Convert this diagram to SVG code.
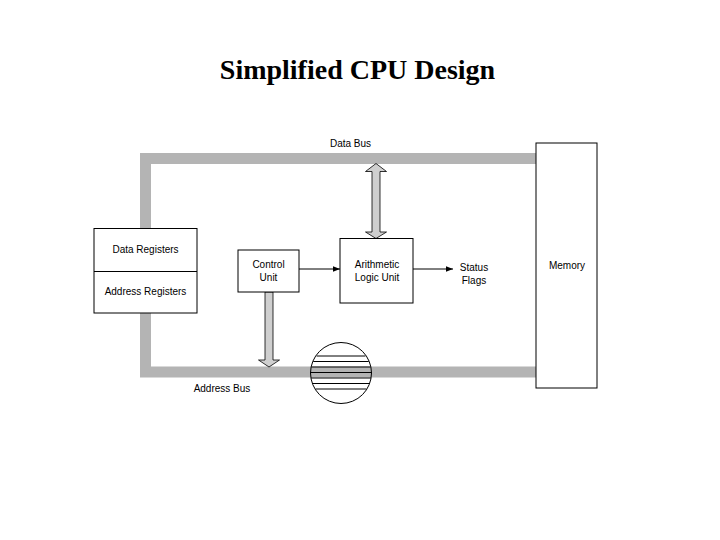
<svg xmlns="http://www.w3.org/2000/svg" width="720" height="540" viewBox="0 0 720 540">
<defs>
<style>
.lbl{font-family:"Liberation Sans",Arial,sans-serif;font-size:10px;fill:#000;text-anchor:middle}
.box{fill:#fff;stroke:#000;stroke-width:1}
.bus{fill:none;stroke:#b4b4b4;stroke-width:11;stroke-linejoin:miter}
.barrow{fill:#cfcfcf;stroke:#000;stroke-width:0.8}
.line{stroke:#000;stroke-width:1;fill:none}
</style>
<marker id="ah" viewBox="0 0 10 10" refX="10" refY="5" markerWidth="7" markerHeight="7" markerUnits="userSpaceOnUse" orient="auto">
<path d="M0,1 L10,5 L0,9 Z" fill="#000"/>
</marker>
</defs>
<rect width="720" height="540" fill="#fff"/>
<text x="357.5" y="79" style="font-family:'Liberation Serif','Times New Roman',serif;font-size:28px;font-weight:bold;text-anchor:middle">Simplified CPU Design</text>

<g id="buses">
<path class="bus" d="M536,158.5 H145.5 V229"/>
<path class="bus" d="M145.5,312 V372 H536"/>
</g>

<g id="connectors">
<polygon class="barrow" points="376,163.5 386.5,171.5 380,171.5 380,232 386.5,232 376,238.5 365.5,232 372,232 372,171.5 365.5,171.5"/>
<polygon class="barrow" points="265,292 273,292 273,360 279.5,360 269,367 258.5,360 265,360"/>
<line class="line" x1="299" y1="269" x2="340" y2="269" marker-end="url(#ah)"/>
<line class="line" x1="413" y1="269" x2="453" y2="269" marker-end="url(#ah)"/>
</g>

<g id="registers">
<rect class="box" x="94" y="228.5" width="103" height="84.5"/>
<line class="line" x1="94" y1="271.5" x2="197" y2="271.5"/>
<text class="lbl" x="145.5" y="253">Data Registers</text>
<text class="lbl" x="145.5" y="295">Address Registers</text>
</g>

<g id="control-unit">
<rect class="box" x="238" y="250" width="61" height="42"/>
<text class="lbl" x="268.5" y="268">Control</text>
<text class="lbl" x="268.5" y="281">Unit</text>
</g>

<g id="alu">
<rect class="box" x="340" y="238.5" width="73" height="64.5"/>
<text class="lbl" x="377" y="268">Arithmetic</text>
<text class="lbl" x="377" y="281">Logic Unit</text>
</g>

<g id="status-flags">
<text class="lbl" x="474" y="271">Status</text>
<text class="lbl" x="474" y="284">Flags</text>
</g>

<g id="memory">
<rect class="box" x="536" y="143" width="61" height="245"/>
<text class="lbl" x="567" y="269">Memory</text>
</g>

<g id="bus-labels">
<text class="lbl" x="350.5" y="147">Data Bus</text>
<text class="lbl" x="222" y="392">Address Bus</text>
</g>

<g id="disk">
<circle cx="341" cy="373" r="30.5" fill="none" stroke="#000" stroke-width="1"/>
<g class="line">
<line x1="316.5" y1="356" x2="365.5" y2="356"/>
<line x1="313.2" y1="361.5" x2="368.8" y2="361.5"/>
<line x1="311.3" y1="367" x2="370.7" y2="367"/>
<line x1="310.5" y1="372.5" x2="371.5" y2="372.5"/>
<line x1="311" y1="378" x2="371" y2="378"/>
<line x1="312.5" y1="383.5" x2="369.5" y2="383.5"/>
<line x1="315.6" y1="389" x2="366.4" y2="389"/>
</g>
</g>
</svg>
